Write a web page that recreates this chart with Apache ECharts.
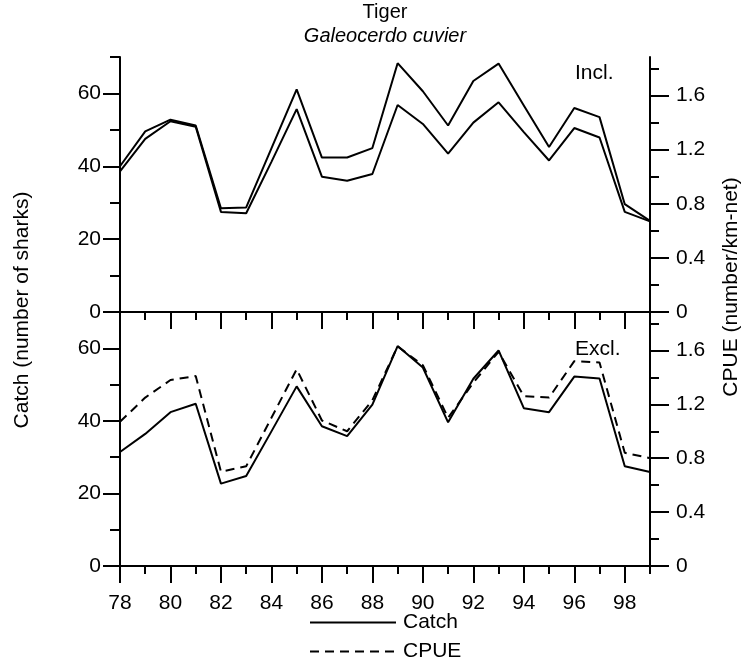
<!DOCTYPE html>
<html>
<head>
<meta charset="utf-8">
<script src="https://cdn.jsdelivr.net/npm/echarts@6/dist/echarts.min.js"></script>
<style>html,body{margin:0;padding:0;background:#fff}#c{width:746px;height:666px}</style>
</head>
<body>
<div id="c"></div>
<script>
const years = [78,79,80,81,82,83,84,85,86,87,88,89,90,91,92,93,94,95,96,97,98,99];
const inclCatch = [40.0,49.6,52.8,51.2,28.5,28.7,44.9,61.1,42.4,42.4,45.0,68.3,60.6,51.2,63.4,68.2,56.7,45.3,56.0,53.5,29.6,25.0];
const inclCpue  = [1.04,1.28,1.41,1.37,0.74,0.73,1.11,1.50,1.00,0.97,1.02,1.53,1.39,1.17,1.40,1.55,1.33,1.12,1.36,1.29,0.74,0.67];
const exclCatch = [31.4,36.4,42.4,44.7,22.7,24.8,37.1,49.5,38.5,35.8,44.5,60.6,54.7,39.6,51.6,59.4,43.5,42.4,52.2,51.7,27.5,25.9];
const exclCpue  = [1.07,1.25,1.38,1.41,0.70,0.74,1.10,1.46,1.08,1.00,1.23,1.63,1.49,1.10,1.36,1.59,1.26,1.25,1.52,1.51,0.84,0.80];
const yearLabels = [78,80,82,84,86,88,90,92,94,96,98];
const yearMinor = [79,81,83,85,87,89,91,93,95,97,99];
const catchLabels = [0,20,40,60];
const catchMinor = [10,30,50,70];
const cpueLabels = [0,0.4,0.8,1.2,1.6];
const cpueMinor = [0.2,0.6,1.0,1.4,1.8];

const FONT = 'Liberation Sans, Arial, sans-serif';
const BLK = '#000';
const FS = 21;
const CATCH_MAX = 70, CPUE_MAX = 1.885;

function pairs(v){ return years.map((y,i)=>[y,v[i]]); }

function xAx(grid, major, labels){
  return {
    gridIndex: grid, type:'value', min:78, max:99, interval:1, position:'bottom',
    axisLine:{show: major, onZero:false, lineStyle:{color:BLK,width:2}},
    axisTick:{show:true, inside:false, length: major?17:8, customValues: major?yearLabels:yearMinor, lineStyle:{color:BLK,width:2}},
    axisLabel:{show: labels, customValues: yearLabels, color:BLK, fontSize:FS, fontFamily:FONT, margin:27},
    splitLine:{show:false}
  };
}
function yAx(grid, side, major){
  const isCatch = side==='left';
  return {
    gridIndex:grid, type:'value', position:side, min:0, max: isCatch?CATCH_MAX:CPUE_MAX,
    interval: isCatch?10:0.2,
    axisLine:{show: major, onZero:false, lineStyle:{color:BLK,width:2}},
    axisTick:{show:true, inside:false, length: major?(isCatch?17:19):(isCatch?10:9),
      customValues: major?(isCatch?catchLabels:cpueLabels):(isCatch?catchMinor:cpueMinor),
      lineStyle:{color:BLK,width:2}},
    axisLabel:{show: major, customValues: isCatch?catchLabels:cpueLabels, color:BLK, fontSize:FS, fontFamily:FONT, margin: isCatch?19:26},
    splitLine:{show:false}
  };
}

const chart = echarts.init(document.getElementById('c'), null, {renderer:'canvas'});
chart.setOption({
  animation:false,
  backgroundColor:'#fff',
  title:[
    {text:'Tiger', left:385, top:2, padding:0, textAlign:'center', textStyle:{color:BLK,fontSize:20,fontWeight:'normal',fontFamily:FONT}},
    {text:'Galeocerdo cuvier', left:385, top:26, padding:0, textAlign:'center', textStyle:{color:BLK,fontSize:20,fontWeight:'normal',fontStyle:'italic',fontFamily:FONT}}
  ],
  grid:[
    {left:120, right:96, top:57, height:255},
    {left:120, right:96, top:312, height:254}
  ],
  xAxis:[ xAx(0,true,false), xAx(0,false,false), xAx(1,true,true), xAx(1,false,false) ],
  yAxis:[ yAx(0,'left',true), yAx(0,'left',false), yAx(0,'right',true), yAx(0,'right',false),
          yAx(1,'left',true), yAx(1,'left',false), yAx(1,'right',true), yAx(1,'right',false) ],
  legend:{
    orient:'vertical', left:309, top:612, padding:0, itemWidth:86, itemHeight:20, itemGap:8,
    data:['Catch','CPUE'],
    itemStyle:{opacity:0},
    textStyle:{color:BLK, fontSize:FS, fontFamily:FONT, padding:[4,0,0,2]},
    selectedMode:false
  },
  graphic:[
    {type:'text', x:22, y:310, rotation:Math.PI/2, style:{text:'Catch (number of sharks)', fill:BLK, font:FS+'px '+FONT, textAlign:'center', textVerticalAlign:'middle'}},
    {type:'text', x:731, y:287, rotation:Math.PI/2, style:{text:'CPUE (number/km-net)', fill:BLK, font:FS+'px '+FONT, textAlign:'center', textVerticalAlign:'middle'}},
    {type:'text', x:575, y:73, style:{text:'Incl.', fill:BLK, font:FS+'px '+FONT, textAlign:'left', textVerticalAlign:'middle'}},
    {type:'text', x:575, y:349, style:{text:'Excl.', fill:BLK, font:FS+'px '+FONT, textAlign:'left', textVerticalAlign:'middle'}}
  ],
  series:[
    {name:'Catch Incl.', type:'line', xAxisIndex:0, yAxisIndex:0, data:pairs(inclCatch), symbol:'none', lineStyle:{color:BLK,width:2}, itemStyle:{color:BLK}},
    {name:'CPUE Incl.', type:'line', xAxisIndex:0, yAxisIndex:2, data:pairs(inclCpue), symbol:'none', lineStyle:{color:BLK,width:2}, itemStyle:{color:BLK}},
    {name:'Catch', type:'line', xAxisIndex:2, yAxisIndex:4, data:pairs(exclCatch), symbol:'none', lineStyle:{color:BLK,width:2}, itemStyle:{color:BLK}},
    {name:'CPUE', type:'line', xAxisIndex:2, yAxisIndex:6, data:pairs(exclCpue), symbol:'none', lineStyle:{color:BLK,width:2,type:[9,6]}, itemStyle:{color:BLK}}
  ]
});
</script>
</body>
</html>
